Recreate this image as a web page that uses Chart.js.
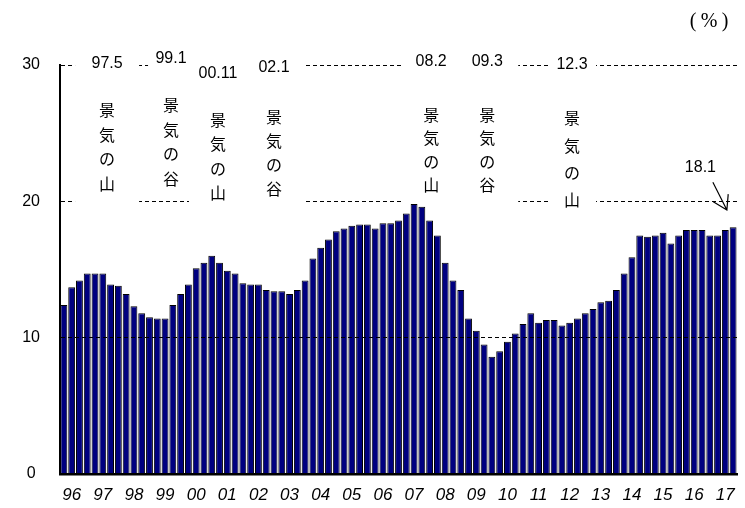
<!DOCTYPE html>
<html>
<head>
<meta charset="utf-8">
<script src="https://cdn.jsdelivr.net/npm/chart.js@4.4.1/dist/chart.umd.min.js"></script>
<style>
  html, body { margin: 0; padding: 0; background: #fff; }
  #wrap { width: 745px; height: 508px; }
</style>
</head>
<body>
<div id="wrap"><canvas id="ratio"></canvas></div>
<script>
// Quarterly series, 1996 Q1 - 2017 Q3 (%)
const years = ['96', '97', '98', '99', '00', '01', '02', '03', '04', '05', '06',
               '07', '08', '09', '10', '11', '12', '13', '14', '15', '16', '17'];
const ratio = [
  12.4, 13.7, 14.2, 14.7,   // 96
  14.7, 14.7, 13.9, 13.8,   // 97
  13.2, 12.3, 11.8, 11.5,   // 98
  11.4, 11.4, 12.4, 13.2,   // 99
  13.9, 15.1, 15.5, 16.0,   // 00
  15.5, 14.9, 14.7, 14.0,   // 01
  13.9, 13.9, 13.5, 13.4,   // 02
  13.4, 13.2, 13.5, 14.2,   // 03
  15.8, 16.6, 17.2, 17.8,   // 04
  18.0, 18.2, 18.3, 18.3,   // 05
  18.0, 18.4, 18.4, 18.6,   // 06
  19.1, 19.8, 19.6, 18.6,   // 07
  17.5, 15.5, 14.2, 13.5,   // 08
  11.4, 10.5, 9.5, 8.6,     // 09
  9.0, 9.7, 10.3, 11.0,     // 10
  11.8, 11.1, 11.3, 11.3,   // 11
  10.9, 11.1, 11.4, 11.8,   // 12
  12.1, 12.6, 12.7, 13.5,   // 13
  14.7, 15.9, 17.5, 17.4,   // 14
  17.5, 17.7, 16.9, 17.5,   // 15
  17.9, 17.9, 17.9, 17.5,   // 16
  17.5, 17.9, 18.1          // 17
];
const yTicks = [0, 10, 20, 30];

// business cycle turning points
const cycleDates = ['97.5', '99.1', '00.11', '02.1', '08.2', '09.3', '12.3'];
const cycleKinds = ['景気の山', '景気の谷', '景気の山', '景気の谷', '景気の山', '景気の谷', '景気の山'];

const quarters = [];
years.forEach(yr => [1, 2, 3, 4].forEach(q => quarters.push(yr + 'Q' + q)));
quarters.length = ratio.length;

// where each turning-point note sits: x in quarter index, y in axis units
const cycleLayout = [
  { at: 5.55,  dateY: 30.1,  textY: 26.7,  pitch: 24.5, half: 32, bottom: 19.85 },
  { at: 13.77, dateY: 30.5,  textY: 27.05, pitch: 24.5, half: 23, bottom: 20.35 },
  { at: 19.8,  dateY: 29.35, textY: 26.0,  pitch: 24.5, half: 29, bottom: 19.85 },
  { at: 27.0,  dateY: 29.8,  textY: 26.2,  pitch: 24,   half: 30, bottom: 19.85 },
  { at: 47.2,  dateY: 30.25, textY: 26.35, pitch: 23.5, half: 29, bottom: 19.9 },
  { at: 54.4,  dateY: 30.25, textY: 26.35, pitch: 23.5, half: 31, bottom: 19.9 },
  { at: 65.3,  dateY: 30.05, textY: 26.1,  pitch: 27.3, half: 24, bottom: 19.4 }
];
const latestNote = { at: 81.8, y: 22.45, from: [83.4, 21.4], to: [85.2, 19.36] };

const cycleNotes = {
  id: 'cycleNotes',
  afterDraw(chart) {
    const { ctx, chartArea, scales: { x, y } } = chart;
    ctx.save();
    ctx.textAlign = 'center';
    ctx.textBaseline = 'middle';

    cycleDates.forEach((d, i) => {
      const L = cycleLayout[i];
      const cx = x.getPixelForValue(L.at);
      const top = y.getPixelForValue(31.2);
      const bottom = y.getPixelForValue(L.bottom);
      ctx.fillStyle = '#fff';
      ctx.fillRect(cx - L.half, top, L.half * 2, bottom - top);

      ctx.fillStyle = '#000';
      ctx.font = '16px "Liberation Sans", Arial, sans-serif';
      ctx.fillText(d, cx, y.getPixelForValue(L.dateY));
      ctx.font = '16px "Noto Sans CJK JP", sans-serif';
      const ty = y.getPixelForValue(L.textY);
      Array.from(cycleKinds[i]).forEach((ch, k) => ctx.fillText(ch, cx, ty + k * L.pitch));
    });

    // latest value with arrow to the last bar
    const last = ratio[ratio.length - 1];
    ctx.fillStyle = '#000';
    ctx.font = '16px "Liberation Sans", Arial, sans-serif';
    ctx.fillText(last.toFixed(1), x.getPixelForValue(latestNote.at), y.getPixelForValue(latestNote.y));

    const x1 = x.getPixelForValue(latestNote.from[0]), y1 = y.getPixelForValue(latestNote.from[1]);
    const x2 = x.getPixelForValue(latestNote.to[0]), y2 = y.getPixelForValue(latestNote.to[1]);
    const ang = Math.atan2(y2 - y1, x2 - x1);
    ctx.strokeStyle = '#000';
    ctx.lineWidth = 1.2;
    ctx.beginPath();
    ctx.moveTo(x1, y1);
    ctx.lineTo(x2, y2);
    ctx.moveTo(x2 - 16 * Math.cos(ang - 0.55), y2 - 16 * Math.sin(ang - 0.55));
    ctx.lineTo(x2, y2);
    ctx.lineTo(x2 - 16 * Math.cos(ang + 0.55), y2 - 16 * Math.sin(ang + 0.55));
    ctx.stroke();

    // unit, drawn glyph by glyph for the wide spacing
    ctx.font = '20px "Liberation Serif", "DejaVu Serif", serif';
    const ux = chartArea.right - 28;
    ctx.fillText('(', ux - 16, 22);
    ctx.fillText('%', ux, 22);
    ctx.fillText(')', ux + 16, 22);
    ctx.restore();
  }
};

new Chart(document.getElementById('ratio'), {
  type: 'bar',
  data: {
    labels: quarters,
    datasets: [{
      data: ratio,
      backgroundColor: '#000080',
      borderColor: '#000',
      borderWidth: 1,
      barPercentage: 0.88,
      categoryPercentage: 1
    }]
  },
  options: {
    responsive: true,
    maintainAspectRatio: false,
    animation: false,
    layout: { padding: { top: 65, right: 8, left: 0, bottom: 0 } },
    plugins: { legend: { display: false }, tooltip: { enabled: false } },
    scales: {
      x: {
        grid: { display: false, drawTicks: false },
        border: { display: true, color: '#000', width: 2.5, z: 1 },
        ticks: {
          autoSkip: false,
          maxRotation: 0,
          minRotation: 0,
          padding: 11,
          color: '#000',
          font: { family: '"Liberation Sans", Arial, sans-serif', size: 17, style: 'italic' },
          callback: (v, i) => (i % 4 === 1 ? years[Math.floor(i / 4)] : '')
        },
        afterFit: s => { s.height = 34; }
      },
      y: {
        min: 0,
        max: 30,
        afterBuildTicks: s => { s.ticks = yTicks.map(v => ({ value: v })); },
        grid: {
          z: 1,
          drawTicks: false,
          lineWidth: 1,
          color: c => (c.tick && c.tick.value === 0 ? 'rgba(0,0,0,0)' : '#000')
        },
        border: { display: true, color: '#000', width: 2, dash: [4, 3], z: 1 },
        ticks: {
          padding: 20,
          crossAlign: 'center',
          color: '#000',
          font: { family: '"Liberation Sans", Arial, sans-serif', size: 16 }
        },
        afterFit: s => { s.width = 60; }
      }
    }
  },
  plugins: [cycleNotes]
});
</script>
</body>
</html>
